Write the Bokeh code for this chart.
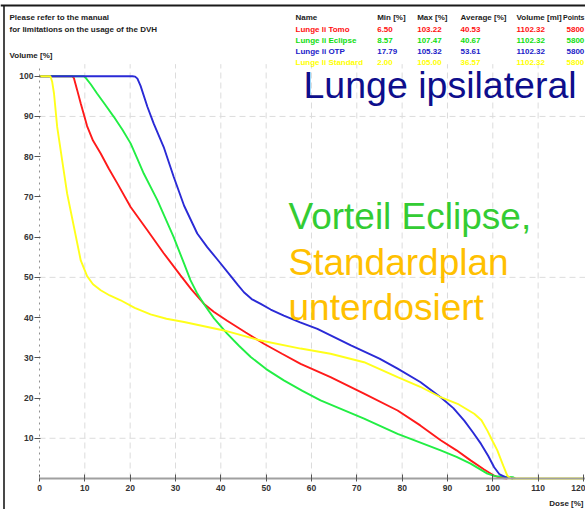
from bokeh.plotting import figure
from bokeh.models import Range1d, FixedTicker, Label
from bokeh.embed import file_html
from bokeh.resources import INLINE

# ---------------- data ----------------
tomo_dose = [0, 7.2, 7.6, 8.3, 9.1, 10.5, 11.8, 13.5, 15.3, 17.2, 20.1, 23.8, 27.4, 31.1, 33.5, 36.3, 38.5, 41.4, 45.5, 49.5, 53.5, 57.6, 64.2, 71.6, 79.0, 84.0, 88.5, 92.0, 95.1, 98.0, 100.3, 101.5, 103.2]
tomo_vol = [100, 100, 99.5, 96.6, 93.2, 87.6, 84.0, 80.8, 77.0, 73.3, 67.5, 61.7, 56.0, 50.5, 47.0, 43.4, 41.4, 39.2, 36.3, 33.5, 31.0, 28.5, 25.2, 21.1, 16.9, 13.2, 9.5, 7.0, 4.5, 2.3, 0.7, 0.2, 0]

eclipse_dose = [0, 9.8, 10.2, 11.3, 12.7, 14.5, 16.4, 18.3, 20.1, 21.5, 23.0, 26.0, 29.6, 31.9, 33.3, 34.7, 36.3, 38.5, 41.4, 44.0, 46.6, 50.0, 53.9, 58.0, 62.0, 71.6, 79.0, 88.5, 92.0, 95.1, 98.8, 100.5, 104.5, 105.0]
eclipse_vol = [100, 100, 99.6, 98.0, 95.7, 92.9, 89.9, 86.7, 83.3, 79.7, 75.8, 69.2, 60.0, 53.4, 49.3, 46.2, 43.3, 39.8, 36.0, 33.0, 30.2, 27.2, 24.4, 21.8, 19.4, 14.9, 11.1, 7.0, 5.4, 3.7, 1.2, 0.6, 0.3, 0]

otp_dose = [0, 20.5, 21.1, 21.6, 22.3, 23.8, 25.2, 27.4, 29.6, 31.9, 34.8, 37.0, 39.2, 42.2, 43.7, 45.1, 46.8, 48.8, 51.0, 53.9, 57.5, 61.3, 68.7, 75.0, 79.0, 84.0, 88.5, 91.3, 93.7, 95.6, 97.4, 99.0, 100.3, 101.5, 102.9, 104.5]
otp_vol = [100, 100, 99.9, 99.4, 97.6, 92.4, 88.2, 82.4, 75.0, 67.8, 60.9, 57.5, 54.5, 50.3, 48.2, 46.3, 44.6, 43.4, 42.0, 40.5, 38.8, 37.2, 33.1, 29.8, 27.3, 24.0, 20.2, 17.5, 14.4, 11.5, 8.6, 5.6, 2.8, 1.0, 0.3, 0]

standard_dose = [0, 2.4, 2.8, 3.2, 3.9, 5.0, 6.1, 7.6, 9.1, 10.5, 11.8, 13.5, 15.5, 17.9, 21.0, 24.5, 28.0, 31.9, 40.7, 48.8, 57.6, 64.2, 71.6, 79.0, 84.0, 88.5, 92.5, 95.9, 97.5, 98.8, 100.0, 101.0, 102.3, 103.2, 104.0, 120.0]
standard_vol = [100, 100, 98.6, 95.7, 87.4, 79.1, 70.8, 62.5, 54.2, 50.3, 48.3, 46.8, 45.5, 44.3, 42.4, 40.8, 39.7, 38.9, 36.8, 34.3, 32.3, 31.0, 28.9, 25.2, 22.8, 20.2, 18.4, 16.1, 14.5, 11.9, 9.2, 7.0, 3.2, 0.7, 0, 0]

x_ticks = [0, 10, 20, 30, 40, 50, 60, 70, 80, 90, 100, 110, 120]
y_ticks = [10, 20, 30, 40, 50, 60, 70, 80, 90, 100]
x_grid = [10, 20, 30, 40, 50, 60, 70, 80, 90, 100, 110]
y_grid = [10, 50, 90]

table_header = ["Name", "Min [%]", "Max [%]", "Average [%]", "Volume [ml]", "Points"]
table_names = ["Lunge li Tomo", "Lunge li Eclipse", "Lunge li OTP", "Lunge li Standard"]
table_min = ["6.50", "8.57", "17.79", "2.00"]
table_max = ["103.22", "107.47", "105.32", "105.00"]
table_avg = ["40.53", "40.67", "53.61", "36.57"]
table_volume = ["1102.32", "1102.32", "1102.32", "1102.32"]
table_points = ["5800", "5800", "5800", "5800"]

# ---------------- styling ----------------
RED = "#ff1a1a"
GREEN = "#22ee44"
BLUE = "#2a2ad6"
YELLOW = "#ffff1a"
T_RED = "#ff1010"
T_GREEN = "#10dd10"
T_BLUE = "#2020c8"
T_YELLOW = "#ffff00"

PXX = 4.533   # px per dose unit
PXY = 4.023   # px per volume unit
X0 = 39       # page px of dose 0
Y0 = 478      # page px of volume 0
W, H = 585, 509


def dx(xref):
    return (xref - X0) / PXX


def dy(yref):
    return (Y0 - yref) / PXY


p = figure(width=W, height=H, output_backend="svg", toolbar_location=None,
           x_range=Range1d(dx(0), dx(W)), y_range=Range1d(dy(H), dy(0)),
           min_border_left=0, min_border_right=0,
           min_border_top=0, min_border_bottom=0)
p.outline_line_color = None
p.xgrid.visible = False
p.ygrid.visible = False
p.background_fill_color = "white"
p.border_fill_color = "white"

# page frame lines (top and left border of the screenshot)
p.segment(x0=[dx(0)], x1=[dx(W + 5)], y0=[dy(5)], y1=[dy(5)], line_color="#1a1a1a", line_width=2.2)
p.segment(x0=[dx(3.5)], x1=[dx(3.5)], y0=[dy(5)], y1=[dy(H + 5)], line_color="#1a1a1a", line_width=1.6)

# grid lines
p.segment(x0=x_grid, x1=x_grid, y0=[0] * len(x_grid), y1=[103] * len(x_grid),
          line_color="#dcdcdc", line_width=1, line_dash="6 4")
p.segment(x0=[0] * len(y_grid), x1=[125] * len(y_grid), y0=y_grid, y1=y_grid,
          line_color="#dcdcdc", line_width=1, line_dash="6 4")

# axes (fixed inside the frame)
for ax in (p.xaxis[0], p.yaxis[0]):
    ax.fixed_location = 0
    ax.major_label_text_font = "Liberation Sans"
    ax.major_label_text_font_style = "bold"
    ax.major_label_text_font_size = "8.5px"
    ax.major_label_text_color = "#333333"
    ax.minor_tick_line_color = None
    ax.major_tick_line_color = "#555555"

p.xaxis.ticker = FixedTicker(ticks=x_ticks)
p.xaxis.bounds = (0, 125)
p.xaxis.axis_line_color = "#a0a0a0"
p.xaxis.axis_line_width = 2
p.xaxis.major_tick_in = 4
p.xaxis.major_tick_out = 3
p.xaxis.major_label_standoff = 3

p.yaxis.ticker = FixedTicker(ticks=y_ticks)
p.yaxis.bounds = (0, 102)
p.yaxis.axis_line_color = "#909090"
p.yaxis.axis_line_dash = "2 4"
p.yaxis.major_tick_in = 1
p.yaxis.major_tick_out = 5
p.yaxis.major_label_standoff = 1

# curves
p.line(tomo_dose, tomo_vol, line_color=RED, line_width=1.9)
p.line(eclipse_dose, eclipse_vol, line_color=GREEN, line_width=1.9)
p.line(otp_dose, otp_vol, line_color=BLUE, line_width=1.9)
p.line(standard_dose, standard_vol, line_color=YELLOW, line_width=1.9)


def small(text, xref, yref, color="#222222", align="left", size="8px"):
    p.add_layout(Label(x=dx(xref), y=dy(yref), text=text, text_font="Liberation Sans",
                       text_font_style="bold", text_font_size=size, text_color=color,
                       text_baseline="alphabetic", text_align=align))


small("Please refer to the manual", 9, 17.3)
small("for limitations on the usage of the DVH", 9, 28.5)
small("Volume [%]", 9, 55)
small("Dose [%]", 583, 503, align="right")

col_x = [295, 376.7, 416.7, 460, 516, 566]
row_y = [28.5, 40, 51.3, 62]
row_c = [T_RED, T_GREEN, T_BLUE, T_YELLOW]
for cx, h in zip(col_x[:-1], table_header[:-1]):
    small(h, cx, 17)
small(table_header[-1], 584, 17, align="right", size="7px")
for i in range(4):
    vals = [table_names[i], table_min[i], table_max[i], table_avg[i], table_volume[i], table_points[i]]
    for cx, v in zip(col_x, vals):
        small(v, cx, row_y[i], row_c[i])


def big(text, xref, yref, color, size="37px"):
    p.add_layout(Label(x=dx(xref), y=dy(yref), text=text, text_font="Liberation Sans",
                       text_font_size=size, text_color=color,
                       text_baseline="alphabetic", text_align="left"))


big("Lunge ipsilateral", 303, 84, "#0e0e8c", "37.5px")
big("Vorteil Eclipse,", 288, 216, "#33cc33")
big("Standardplan", 288, 262, "#ffc000")
big("unterdosiert", 288, 306.5, "#ffc000")

open("out.html", "w").write(file_html(p, INLINE))
